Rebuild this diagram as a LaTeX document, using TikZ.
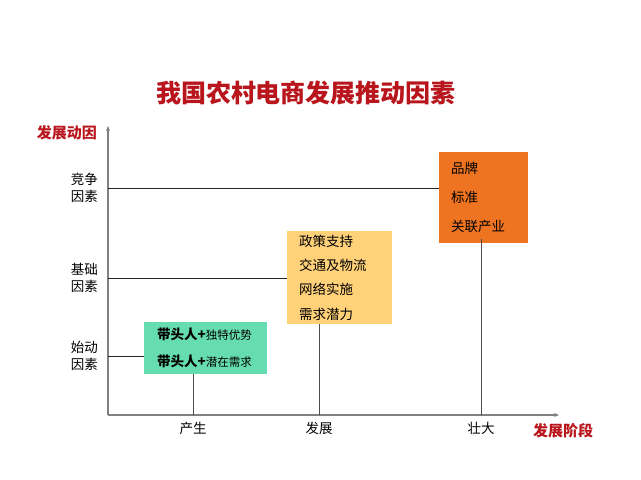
\documentclass[tikz,border=0pt]{standalone}
\usepackage{fontspec}
\setmainfont{Noto Sans CJK SC}
\usetikzlibrary{arrows.meta, positioning}
\definecolor{titlered}{HTML}{B8161C}
\definecolor{boxorange}{HTML}{EE7421}
\definecolor{boxyellow}{HTML}{FFD27A}
\definecolor{boxgreen}{HTML}{66DDB1}
\definecolor{axisgray}{HTML}{808080}
\tikzstyle{factorbox} = [rectangle, anchor=north west, inner ysep=0pt, align=left]
\tikzstyle{ylabel} = [anchor=east, align=right, inner sep=0pt, font=\fontsize{13.5}{17}\selectfont]
\tikzstyle{stagelabel} = [inner sep=0pt, font=\fontsize{13.5}{16}\selectfont]
\tikzstyle{axistitle} = [inner sep=0pt, text=titlered, font=\fontsize{15}{18}\selectfont\bfseries]
\tikzstyle{axis} = [draw=axisgray, line width=1.4pt, -{Stealth[length=5pt,width=4pt]}]
\tikzstyle{link} = [draw=black!85, line width=0.9pt]
\tikzstyle{drop} = [draw=black!70, line width=1pt]

\begin{document}
\begin{tikzpicture}[x=1pt, y=-1pt]
\useasboundingbox (0,0) rectangle (641,480);

% Title
\node (title) [inner sep=0pt, text=titlered, font=\fontsize{25}{30}\selectfont\bfseries] at (306,93) {我国农村电商发展推动因素};

% Axes
\coordinate (origin) at (108,415);
\coordinate (ytop) at (108,126);
\coordinate (xend) at (559,415);
\draw [axis] (origin) -- (ytop);
\draw [axis] (origin) -- (xend);
\node (ytitle) [axistitle] at (67,133) {发展动因};
\node (xtitle) [axistitle] at (563,431) {发展阶段};

% Factor levels
\node (compete) [ylabel] at (98,188) {竞争\\因素};
\node (basic) [ylabel] at (98,278) {基础\\因素};
\node (start) [ylabel] at (98,356) {始动\\因素};

% Stages
\node (birth) [stagelabel] at (193,428) {产生};
\node (growth) [stagelabel] at (319,428) {发展};
\node (mature) [stagelabel] at (481,428) {壮大};

% Boxes
\node (brand) [factorbox, fill=boxorange, minimum width=89pt, minimum height=91pt, inner xsep=12pt, text width=65pt, font=\fontsize{13.5}{29}\selectfont] at (439,152) {品牌\\标准\\关联产业};
\node (policy) [factorbox, fill=boxyellow, minimum width=105pt, minimum height=93pt, inner xsep=12pt, text width=81pt, font=\fontsize{13.5}{24.3}\selectfont] at (287,231) {政策支持\\交通及物流\\网络实施\\需求潜力};
\node (leader) [factorbox, fill=boxgreen, minimum width=123pt, minimum height=52pt, inner xsep=13pt, text width=97pt, font=\fontsize{11.5}{27}\selectfont] at (144,322) {{\fontsize{13.5}{27}\selectfont\bfseries 带头人+}独特优势\\{\fontsize{13.5}{27}\selectfont\bfseries 带头人+}潜在需求};

% Connectors
\draw [link] (compete.east -| origin) -- (compete.east -| brand.west);
\draw [link] (basic.east -| origin) -- (basic.east -| policy.west);
\draw [link] (start.east -| origin) -- (start.east -| leader.west);
\draw [drop] (leader.south -| birth) -- (birth |- origin);
\draw [drop] (policy.south -| growth) -- (growth |- origin);
\draw [drop] ([yshift=4pt]brand.south -| mature) -- (mature |- origin);

\end{tikzpicture}
\end{document}
